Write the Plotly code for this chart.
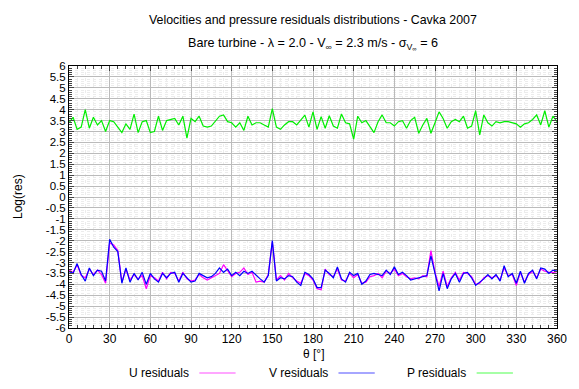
import plotly.graph_objects as go

# Angular positions (degrees) and residuals (log10) for each field
theta = list(range(0, 361, 3))

u_res = [
    -3.35, -3.45, -3.10, -3.60, -3.70, -3.30, -3.55, -3.35, -3.55, -3.95,
    -2.10, -2.20, -2.45, -3.90, -3.30, -3.80, -3.55, -3.75, -3.60, -4.20,
    -3.60, -3.70, -3.85, -3.45, -3.75, -3.45, -3.50, -3.85, -3.45, -3.75,
    -3.85, -3.80, -3.55, -3.70, -3.80, -3.70, -3.60, -3.50, -3.10, -3.40,
    -3.65, -3.50, -3.45, -3.25, -3.55, -3.45, -3.90, -3.85, -3.90, -3.55,
    -2.05, -3.80, -3.60, -3.80, -3.50, -3.70, -3.85, -3.95, -3.50, -3.60,
    -3.80, -4.20, -4.25, -3.30, -3.55, -3.65, -3.30, -3.80, -3.85, -3.50,
    -3.70, -3.55, -3.95, -3.90, -3.65, -3.60, -3.50, -3.70, -3.40, -3.50,
    -3.30, -3.60, -3.50, -3.65, -3.75, -3.70, -3.75, -3.60, -3.65, -2.45,
    -3.45, -4.10, -3.40, -4.10, -3.70, -3.45, -3.80, -3.45, -3.50, -3.65,
    -4.00, -3.95, -3.70, -3.60, -3.70, -3.60, -3.80, -3.25, -3.60, -3.55,
    -4.05, -3.45, -3.90, -3.55, -3.40, -3.70, -3.30, -3.40, -3.45, -3.45,
    -3.50,
]

v_res = [
    -3.42, -3.50, -3.05, -3.55, -3.85, -3.25, -3.60, -3.35, -3.40, -3.85,
    -1.94, -2.30, -2.50, -3.95, -3.25, -3.90, -3.50, -3.80, -3.45, -4.00,
    -3.50, -3.75, -3.90, -3.50, -3.70, -3.50, -3.45, -3.90, -3.50, -3.70,
    -3.90, -3.85, -3.50, -3.60, -3.70, -3.65, -3.50, -3.25, -3.45, -3.30,
    -3.60, -3.45, -3.60, -3.40, -3.50, -3.40, -3.60, -3.75, -3.90, -3.60,
    -2.00, -3.85, -3.70, -3.75, -3.60, -3.65, -3.90, -4.05, -3.45, -3.55,
    -3.75, -4.15, -4.15, -3.35, -3.50, -3.70, -3.20, -3.75, -3.90, -3.45,
    -3.60, -3.50, -4.00, -3.85, -3.55, -3.50, -3.55, -3.60, -3.35, -3.55,
    -3.20, -3.55, -3.45, -3.60, -3.80, -3.75, -3.70, -3.65, -3.60, -2.70,
    -3.50, -4.30, -3.50, -4.20, -3.75, -3.50, -3.90, -3.50, -3.45, -3.70,
    -4.05, -3.90, -3.75, -3.55, -3.75, -3.55, -3.85, -3.15, -3.65, -3.50,
    -3.95, -3.40, -3.95, -3.50, -3.35, -3.75, -3.25, -3.30, -3.50, -3.35,
    -3.40,
]

p_res = [
    3.40, 3.65, 3.10, 3.20, 4.00, 3.15, 3.65, 3.30, 3.50, 3.00,
    3.50, 3.45, 3.20, 2.95, 3.35, 3.10, 3.80, 2.95, 3.45, 3.50,
    2.95, 3.00, 3.70, 3.05, 3.50, 3.55, 3.60, 3.30, 3.70, 2.70,
    3.60, 3.45, 3.70, 3.25, 3.20, 3.25, 3.50, 3.70, 3.76, 3.45,
    3.40, 3.20, 3.40, 3.05, 3.70, 3.30, 3.40, 3.40, 3.30, 3.20,
    4.05, 3.20, 3.10, 3.30, 3.45, 3.45, 3.30, 3.50, 3.75, 3.20,
    3.90, 3.10, 3.68, 3.15, 3.72, 3.25, 3.15, 3.80, 3.40, 3.35,
    2.65, 3.70, 3.40, 3.50, 3.25, 2.95, 3.45, 3.76, 3.40, 3.40,
    3.25, 3.45, 3.50, 3.15, 3.50, 3.65, 2.92, 3.30, 3.60, 2.92,
    3.40, 3.90, 3.60, 3.15, 3.45, 3.55, 3.45, 3.70, 3.15, 3.25,
    3.95, 2.85, 3.76, 3.40, 3.25, 3.45, 3.40, 3.45, 3.45, 3.40,
    3.35, 3.20, 3.35, 3.40, 3.55, 3.76, 3.30, 3.95, 3.20, 3.70,
    3.45,
]

series_names = ["U residuals", "V residuals", "P residuals"]
series_colors = ["#ff00ff", "#0000ff", "#00ee00"]
legend_colors = ["#ff88ff", "#8888ff", "#88ff88"]

x_ticks = list(range(0, 361, 30))
y_ticks = [v / 2 for v in range(-12, 13)]
y_ticktext = [("%g" % v) for v in y_ticks]

FONT = "Liberation Sans, Arial, sans-serif"

fig = go.Figure()
for name, ys, col in zip(series_names, [u_res, v_res, p_res], series_colors):
    fig.add_trace(go.Scatter(x=theta, y=ys, mode="lines", name=name,
                             line=dict(color=col, width=1.2), showlegend=False))

fig.update_layout(
    width=579, height=389,
    margin=dict(l=69, r=12, t=66, b=61),
    paper_bgcolor="white", plot_bgcolor="white",
    font=dict(family=FONT, size=12, color="black"),
)

fig.update_xaxes(
    range=[0, 360], tickvals=x_ticks, ticks="inside", ticklen=5,
    showline=True, linecolor="black", linewidth=1, mirror="ticks",
    showgrid=True, gridcolor="#bbbbbb", gridwidth=1, zeroline=False,
    tickfont=dict(size=12),
    minor=dict(dtick=6, ticks="inside", ticklen=3, showgrid=True,
               gridcolor="#ececec", griddash="dot"),
)
fig.update_yaxes(
    range=[-6, 6], tickvals=y_ticks, ticktext=y_ticktext, ticks="inside", ticklen=5,
    showline=True, linecolor="black", linewidth=1, mirror="ticks",
    showgrid=True, gridcolor="#bbbbbb", gridwidth=1, zeroline=False,
    tickfont=dict(size=11.5),
    minor=dict(dtick=0.1, ticks="inside", ticklen=3, showgrid=True,
               gridcolor="#ececec", griddash="dot"),
)

# Titles
fig.add_annotation(text="Velocities and pressure residuals distributions - Cavka 2007",
                   xref="paper", yref="paper", x=0.5, y=(328 - 20) / 262,
                   showarrow=False, font=dict(size=12.4), xanchor="center", yanchor="middle")
fig.add_annotation(text="Bare turbine - λ = 2.0 - V<sub>∞</sub> = 2.3 m/s - σ<sub>V<sub>∞</sub></sub> = 6",
                   xref="paper", yref="paper", x=0.5, y=(328 - 44) / 262,
                   showarrow=False, font=dict(size=12.6), xanchor="center", yanchor="middle")

# Axis titles
fig.add_annotation(text="θ [°]", xref="paper", yref="paper", x=0.5, y=(328 - 354) / 262,
                   showarrow=False, font=dict(size=12), xanchor="center", yanchor="middle")
fig.add_annotation(text="Log(res)", xref="paper", yref="paper", x=(17 - 69) / 498,
                   y=(328 - 197) / 262, textangle=-90, showarrow=False,
                   font=dict(size=12), xanchor="center", yanchor="middle")

# Key below the plot: label followed by a line sample
key_text_right = [193, 335, 476]
key_y = (328 - 373) / 262
for name, col, xr in zip(series_names, legend_colors, key_text_right):
    fig.add_annotation(text=name, xref="paper", yref="paper", x=(xr - 69) / 498, y=key_y,
                       showarrow=False, font=dict(size=12), xanchor="right", yanchor="middle")
    fig.add_shape(type="line", xref="paper", yref="paper",
                  x0=(xr + 9 - 69) / 498, x1=(xr + 46 - 69) / 498, y0=key_y, y1=key_y,
                  line=dict(color=col, width=1.5))

fig.write_html("out.html")
